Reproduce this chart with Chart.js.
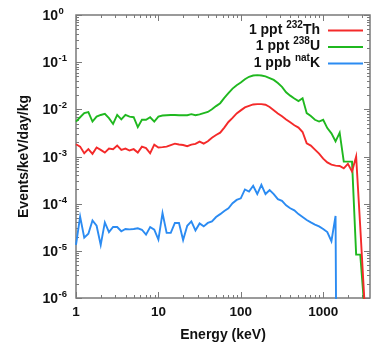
<!DOCTYPE html>
<html>
<head>
<meta charset="utf-8">
<script src="https://cdn.jsdelivr.net/npm/chart.js@4.4.1/dist/chart.umd.min.js"></script>
<style>
  html, body { margin: 0; padding: 0; background: #fff; }
  #wrap { width: 390px; height: 351px; }
</style>
</head>
<body>
<div id="wrap"><canvas id="spectrum" width="390" height="351"></canvas></div>
<script>
// Energy bins (keV), 20 per decade
const energies = [
  1, 1.122, 1.259, 1.413, 1.585, 1.778, 1.995, 2.239, 2.512, 2.818,
  3.162, 3.548, 3.981, 4.467, 5.012, 5.623, 6.310, 7.079, 7.943, 8.913,
  10, 11.22, 12.59, 14.13, 15.85, 17.78, 19.95, 22.39, 25.12, 28.18,
  31.62, 35.48, 39.81, 44.67, 50.12, 56.23, 63.10, 70.79, 79.43, 89.13,
  100, 112.2, 125.9, 141.3, 158.5, 177.8, 199.5, 223.9, 251.2, 281.8,
  316.2, 354.8, 398.1, 446.7, 501.2, 562.3, 631.0, 707.9, 794.3, 891.3,
  1000, 1122, 1259, 1413, 1585, 1778, 1995, 2239, 2512, 2818,
  3162
];

// Events/keV/day/kg
const thorium = [
  1.82e-3, 1.62e-3, 1.17e-3, 1.43e-3, 1.14e-3, 1.55e-3, 1.38e-3, 1.21e-3, 1.47e-3, 1.43e-3,
  1.70e-3, 1.38e-3, 1.47e-3, 1.34e-3, 1.43e-3, 1.21e-3, 1.62e-3, 1.51e-3, 1.17e-3, 1.78e-3,
  1.55e-3, 1.58e-3, 1.62e-3, 1.75e-3, 1.87e-3, 1.80e-3, 1.75e-3, 1.65e-3, 1.78e-3, 1.85e-3,
  2.07e-3, 1.88e-3, 2.10e-3, 2.50e-3, 2.85e-3, 3.20e-3, 4.10e-3, 5.40e-3, 6.60e-3, 8.20e-3,
  9.50e-3, 1.10e-2, 1.18e-2, 1.27e-2, 1.29e-2, 1.29e-2, 1.25e-2, 1.12e-2, 9.6e-3, 8.2e-3,
  7.1e-3, 6.1e-3, 5.3e-3, 4.6e-3, 4.1e-3, 3.3e-3, 1.9e-3, 1.7e-3, 1.4e-3, 1.15e-3,
  9.0e-4, 7.5e-4, 6.7e-4, 6.4e-4, 6.3e-4, 5.6e-4, 7.0e-4, 4.8e-4, 1.0e-3, 3.2e-5,
  9e-7
];

const uranium = [
  5.5e-3, 6.8e-3, 8.3e-3, 8.7e-3, 5.5e-3, 7.0e-3, 7.6e-3, 8.0e-3, 6.5e-3, 4.9e-3,
  7.6e-3, 6.1e-3, 7.6e-3, 7.0e-3, 6.8e-3, 4.2e-3, 6.0e-3, 6.0e-3, 6.8e-3, 5.5e-3,
  7.0e-3, 7.4e-3, 7.5e-3, 7.6e-3, 7.6e-3, 7.5e-3, 7.5e-3, 7.5e-3, 7.9e-3, 7.5e-3,
  7.8e-3, 8.3e-3, 8.8e-3, 1.0e-2, 1.17e-2, 1.35e-2, 1.75e-2, 2.2e-2, 2.75e-2, 3.25e-2,
  3.7e-2, 4.35e-2, 4.9e-2, 5.2e-2, 5.3e-2, 5.2e-2, 5.0e-2, 4.6e-2, 4.2e-2, 3.6e-2,
  3.0e-2, 2.3e-2, 1.95e-2, 1.7e-2, 1.5e-2, 1.72e-2, 8.3e-3, 7.2e-3, 6.0e-3, 5.5e-3,
  6.0e-3, 4.0e-3, 3.1e-3, 2.1e-3, 3.2e-3, 7.8e-4, 7.8e-4, 7.8e-4, 8.3e-6, 8.3e-6,
  6e-7
];

const potassium = [
  1.34e-5, 5.3e-5, 1.9e-5, 2.3e-5, 4.4e-5, 3.4e-5, 1.34e-5, 4.0e-5, 2.5e-5, 3.2e-5,
  3.2e-5, 2.6e-5, 2.9e-5, 2.85e-5, 2.9e-5, 3.0e-5, 2.8e-5, 2.2e-5, 3.2e-5, 2.8e-5,
  1.73e-5, 6.3e-5, 2.4e-5, 2.4e-5, 3.9e-5, 3.9e-5, 1.7e-5, 3.4e-5, 4.2e-5, 2.7e-5,
  3.8e-5, 3.3e-5, 3.9e-5, 4.2e-5, 5.2e-5, 6.0e-5, 7.0e-5, 8.0e-5, 1.02e-4, 1.2e-4,
  1.3e-4, 2.0e-4, 1.8e-4, 2.4e-4, 1.6e-4, 2.5e-4, 1.6e-4, 1.95e-4, 1.6e-4, 1.25e-4,
  1.15e-4, 9.2e-5, 8.0e-5, 7.2e-5, 6.0e-5, 5.2e-5, 4.5e-5, 4.0e-5, 3.6e-5, 3.3e-5,
  2.9e-5, 2.5e-5, 1.6e-5, 5.5e-5, 1e-20, null, null, null, null, null,
  null
];

const xMajor = [1, 10, 100, 1000];
const yMajor = [1e-6, 1e-5, 1e-4, 1e-3, 1e-2, 1e-1, 1];
const seriesNames = [
  { pre: '1 ppt ', sup: '232', post: 'Th' },
  { pre: '1 ppt ', sup: '238', post: 'U' },
  { pre: '1 ppb ', sup: 'nat', post: 'K' }
];
const seriesColors = ['#f42a2a', '#1fb81f', '#2b8bf2'];

const FONT = '"Liberation Sans", Arial, Helvetica, sans-serif';
Chart.defaults.font.family = FONT;
Chart.defaults.color = '#111';

function withMinors(majors, last) {
    const out = [];
    majors.forEach(function(m) {
        for (let f = 1; f <= 9; f++) {
            const v = m * f;
            if (v <= last) out.push(v);
        }
    });
    return out;
}

function toPoints(values) {
    return energies.map(function(e, i) {
        return { x: e, y: values[i] };
    });
}

// Frame + inward ticks on all four sides (gnuplot style)
const frameTicks = {
    id: 'frameTicks',
    beforeDatasetsDraw(chart) {
        const { ctx, chartArea: a, scales } = chart;
        ctx.save();
        ctx.strokeStyle = '#7a7a7a';
        ctx.lineWidth = 1;
        ctx.beginPath();
        scales.x.ticks.forEach(function(t) {
            const px = Math.round(scales.x.getPixelForValue(t.value)) + 0.5;
            const len = xMajor.includes(t.value) ? 6 : 3;
            ctx.moveTo(px, a.bottom); ctx.lineTo(px, a.bottom - len);
            ctx.moveTo(px, a.top); ctx.lineTo(px, a.top + len);
        });
        scales.y.ticks.forEach(function(t) {
            const py = Math.round(scales.y.getPixelForValue(t.value)) + 0.5;
            const major = yMajor.some(function(m) { return Math.abs(m - t.value) < m * 1e-6; });
            const len = major ? 6 : 3;
            ctx.moveTo(a.left, py); ctx.lineTo(a.left + len, py);
            ctx.moveTo(a.right, py); ctx.lineTo(a.right - len, py);
        });
        ctx.stroke();
        ctx.lineWidth = 1.5;
        ctx.strokeRect(a.left, a.top, a.right - a.left, a.bottom - a.top);
        ctx.restore();
    },
    afterDraw(chart) {
        const { ctx, scales } = chart;
        ctx.save();
        ctx.fillStyle = '#111';
        ctx.textAlign = 'left';
        ctx.textBaseline = 'alphabetic';

        // y tick labels 10^n with superscript exponent
        yMajor.forEach(function(v) {
            const py = scales.y.getPixelForValue(v);
            const exp = String(Math.round(Math.log10(v)));
            ctx.font = 'bold 14px ' + FONT;
            ctx.fillText('10', 42.5, py + 5);
            const w = ctx.measureText('10').width;
            ctx.font = 'bold 9.5px ' + FONT;
            ctx.fillText(exp, 42.5 + w + 0.5, py - 1);
        });

        // key, right aligned text with line sample on the right
        const textRight = 320;
        seriesNames.forEach(function(s, i) {
            const base = 33.5 + i * 16.5;
            ctx.font = 'bold 14px ' + FONT;
            const w1 = ctx.measureText(s.pre).width;
            const w3 = ctx.measureText(s.post).width;
            ctx.font = 'bold 10px ' + FONT;
            const w2 = ctx.measureText(s.sup).width;
            let x0 = textRight - (w1 + w2 + w3);
            ctx.font = 'bold 14px ' + FONT;
            ctx.fillText(s.pre, x0, base);
            ctx.font = 'bold 10px ' + FONT;
            ctx.fillText(s.sup, x0 + w1, base - 6);
            ctx.font = 'bold 14px ' + FONT;
            ctx.fillText(s.post, x0 + w1 + w2, base);

            ctx.strokeStyle = seriesColors[i];
            ctx.lineWidth = 2;
            ctx.beginPath();
            ctx.moveTo(328, base - 3);
            ctx.lineTo(363, base - 3);
            ctx.stroke();
        });
        ctx.restore();
    }
};

const datasetStyle = {
    borderWidth: 1.9,
    pointRadius: 0,
    tension: 0,
    fill: false,
    clip: 1
};

new Chart(document.getElementById('spectrum'), {
    type: 'line',
    data: {
        datasets: [
            Object.assign({ label: '1 ppt 232Th', data: toPoints(thorium), borderColor: seriesColors[0] }, datasetStyle),
            Object.assign({ label: '1 ppt 238U', data: toPoints(uranium), borderColor: seriesColors[1] }, datasetStyle),
            Object.assign({ label: '1 ppb natK', data: toPoints(potassium), borderColor: seriesColors[2] }, datasetStyle)
        ]
    },
    options: {
        responsive: false,
        animation: false,
        devicePixelRatio: 1,
        layout: { padding: { top: 15, right: 20, left: 0, bottom: 0 } },
        plugins: {
            legend: { display: false },
            tooltip: { enabled: false }
        },
        scales: {
            x: {
                type: 'logarithmic',
                min: 1,
                max: 3700,
                grid: { display: false, drawTicks: false },
                border: { display: false },
                afterBuildTicks: function(scale) {
                    scale.ticks = withMinors(xMajor, 3700).map(function(v) { return { value: v }; });
                },
                afterFit: function(scale) { scale.height = 53; },
                ticks: {
                    autoSkip: false,
                    maxRotation: 0,
                    padding: 6,
                    color: '#111',
                    font: { size: 13.5, weight: 'bold' },
                    callback: function(value) {
                        return xMajor.includes(value) ? String(value) : '';
                    }
                },
                title: {
                    display: true,
                    text: 'Energy (keV)',
                    color: '#111',
                    font: { size: 14, weight: 'bold' },
                    padding: { top: 0, bottom: 7.4 }
                }
            },
            y: {
                type: 'logarithmic',
                min: 1e-6,
                max: 1,
                grid: { display: false, drawTicks: false },
                border: { display: false },
                afterBuildTicks: function(scale) {
                    scale.ticks = withMinors(yMajor, 1).map(function(v) { return { value: v }; });
                },
                afterFit: function(scale) { scale.width = 76; },
                ticks: { display: false },
                title: {
                    display: true,
                    text: 'Events/keV/day/kg',
                    color: '#111',
                    font: { size: 14, weight: 'bold' },
                    padding: { top: 15.3, bottom: 0 }
                }
            }
        }
    },
    plugins: [frameTicks]
});
</script>
</body>
</html>
